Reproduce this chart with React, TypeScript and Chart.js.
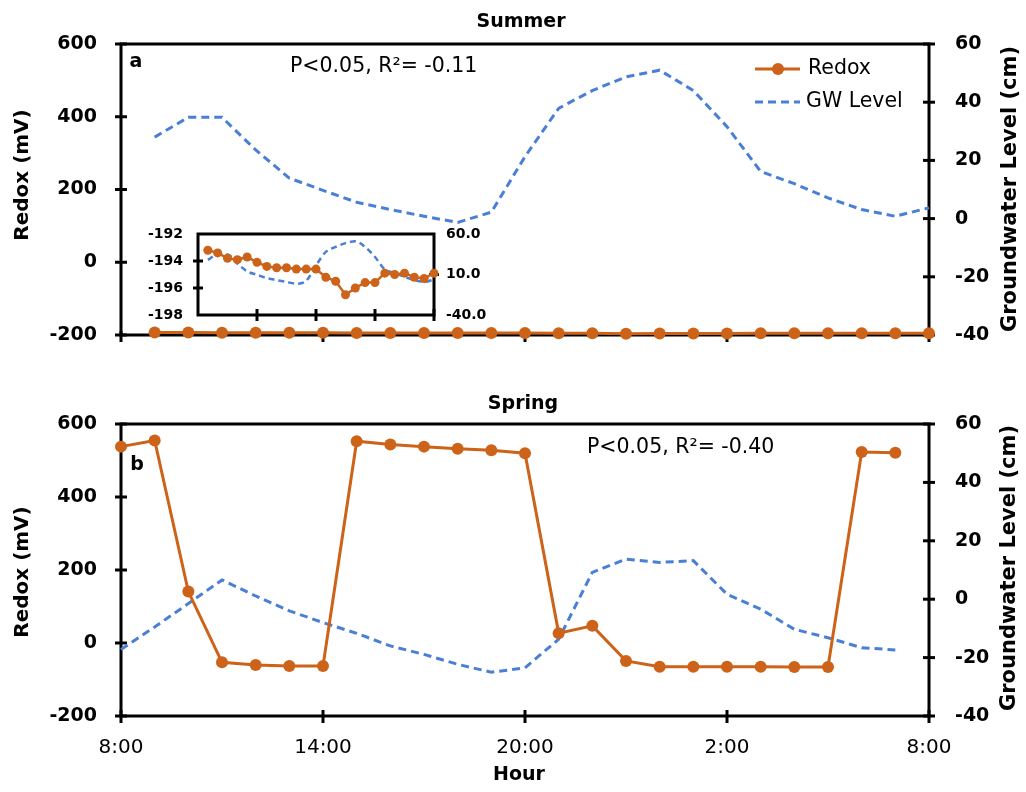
import React, { useEffect, useRef } from 'react';
import { Chart, registerables } from 'chart.js';

Chart.register(...registerables);

const FONT = '"DejaVu Sans", sans-serif';
const ORANGE = '#CC6319';
const BLUE = '#4A7FD6';

// ---- data ----
const xTickValues = [0, 6, 12, 18, 24];
const xTickLabels = ['8:00', '14:00', '20:00', '2:00', '8:00'];

const summerHours = [1, 2, 3, 4, 5, 6, 7, 8, 9, 10, 11, 12, 13, 14, 15, 16, 17, 18, 19, 20, 21, 22, 23, 24];
const summerRedox = [-193.2, -193.4, -193.8, -193.9, -193.7, -194.1, -194.4, -194.5, -194.5, -194.6, -194.6, -194.6,
  -195.2, -195.5, -196.5, -196.0, -195.6, -195.6, -194.9, -195.0, -194.9, -195.2, -195.3, -194.9];
const summerGW = [28, 34.8, 34.8, 23.6, 13.9, 9.7, 5.6, 3.1, 0.8, -1.3, 2.2, 21.3,
  37.9, 44, 48.7, 51, 44, 31.6, 16.2, 12, 7.1, 3.1, 0.8, 3.7];

const springHours = [0, 1, 2, 3, 4, 5, 6, 7, 8, 9, 10, 11, 12, 13, 14, 15, 16, 17, 18, 19, 20, 21, 22, 23];
const springRedox = [538, 555, 141, -53, -60, -63, -63, 553, 544, 538, 532, 528,
  520, 27, 47, -49, -65, -65, -65, -65, -66, -66, 523, 521];
const springGW = [-17.2, -9.5, -1.5, 6.6, 1.1, -4, -8, -11.7, -16, -18.9, -22.3, -25,
  -23.5, -13.7, 9.2, 13.7, 12.6, 13.2, 1.7, -3.4, -10.3, -13.2, -16.6, -17.4];

const redoxTicks = [-200, 0, 200, 400, 600];
const gwTicks = [-40, -20, 0, 20, 40, 60];
const insetRedoxTicks = [-198, -196, -194, -192];
const insetGWTicks = [-40, 10, 60];

type TextItem = { text: string; x: number; y: number; font: string; align?: CanvasTextAlign; rotate?: number };

function pts(xs: number[], ys: number[]) {
  return xs.map((x, i) => ({ x, y: ys[i] }));
}

function decor(id: string, cfg: {
  lw: number;
  yTicks: { axis: string; values: number[] }[];
  xTicks: number[];
  tickIn: number;
  tickOut: number;
  texts: TextItem[];
  legend?: boolean;
}) {
  return {
    id,
    beforeDatasetsDraw(chart: any) {
      const { ctx, chartArea: a } = chart;
      ctx.save();
      ctx.strokeStyle = '#000';
      ctx.lineWidth = cfg.lw;
      ctx.lineCap = 'square';
      ctx.strokeRect(a.left, a.top, a.right - a.left, a.bottom - a.top);
      ctx.lineCap = 'butt';
      cfg.yTicks.forEach((t) => {
        const s = chart.scales[t.axis];
        const x = s.position === 'left' ? a.left : a.right;
        t.values.forEach((v) => {
          const y = s.getPixelForValue(v);
          ctx.beginPath();
          ctx.moveTo(x - cfg.tickOut, y);
          ctx.lineTo(x + cfg.tickOut, y);
          ctx.stroke();
        });
      });
      const xs = chart.scales.x;
      cfg.xTicks.forEach((v) => {
        const x = xs.getPixelForValue(v);
        ctx.beginPath();
        ctx.moveTo(x, a.bottom - cfg.tickIn);
        ctx.lineTo(x, a.bottom + cfg.tickOut + 1);
        ctx.stroke();
      });
      ctx.restore();
    },
    afterDraw(chart: any) {
      const { ctx } = chart;
      ctx.save();
      ctx.fillStyle = '#000';
      ctx.textBaseline = 'middle';
      cfg.texts.forEach((t) => {
        ctx.save();
        ctx.font = t.font;
        ctx.textAlign = t.align || 'center';
        ctx.translate(t.x, t.y);
        if (t.rotate) ctx.rotate(t.rotate);
        ctx.fillText(t.text, 0, 0);
        ctx.restore();
      });
      if (cfg.legend) {
        ctx.lineWidth = 3;
        ctx.strokeStyle = ORANGE;
        ctx.beginPath();
        ctx.moveTo(755, 69);
        ctx.lineTo(800, 69);
        ctx.stroke();
        ctx.fillStyle = ORANGE;
        ctx.beginPath();
        ctx.arc(778, 69, 6, 0, Math.PI * 2);
        ctx.fill();
        ctx.strokeStyle = BLUE;
        ctx.setLineDash([8, 5]);
        ctx.beginPath();
        ctx.moveTo(755, 102);
        ctx.lineTo(800, 102);
        ctx.stroke();
        ctx.setLineDash([]);
        ctx.fillStyle = '#000';
        ctx.font = `20.5px ${FONT}`;
        ctx.textAlign = 'left';
        ctx.fillText('Redox', 808, 69);
        ctx.fillText('GW Level', 806, 102);
      }
      ctx.restore();
    },
  };
}

const noGrid = { display: false, drawTicks: false };
const noBorder = { display: false };

function mainConfig(opts: {
  redoxX: number[]; redox: number[]; gwX: number[]; gw: number[];
  padTop: number; xHeight: number; showX: boolean; plugin: any;
}) {
  return {
    type: 'line' as const,
    data: {
      datasets: [
        {
          label: 'Redox',
          data: pts(opts.redoxX, opts.redox),
          borderColor: ORANGE,
          backgroundColor: ORANGE,
          borderWidth: 3,
          pointRadius: 6,
          pointBorderWidth: 0,
          pointBackgroundColor: ORANGE,
          yAxisID: 'y',
          clip: false,
        },
        {
          label: 'GW Level',
          data: pts(opts.gwX, opts.gw),
          borderColor: BLUE,
          borderWidth: 3,
          borderDash: [8, 5],
          pointRadius: 0,
          yAxisID: 'y2',
          clip: false,
        },
      ],
    },
    options: {
      responsive: false,
      animation: false,
      devicePixelRatio: 1,
      layout: { autoPadding: false, padding: { top: opts.padTop, left: 0, right: 0, bottom: 0 } },
      plugins: { legend: { display: false }, tooltip: { enabled: false }, title: { display: false } },
      scales: {
        x: {
          type: 'linear',
          min: 0,
          max: 24,
          grid: noGrid,
          border: noBorder,
          afterBuildTicks: (s: any) => { s.ticks = xTickValues.map((v) => ({ value: v })); },
          ticks: {
            display: opts.showX,
            padding: 20,
            color: '#000',
            font: { family: FONT, size: 20 },
            maxRotation: 0,
            callback: (v: number) => xTickLabels[xTickValues.indexOf(v)] ?? '',
          },
          afterFit: (s: any) => { s.height = opts.xHeight; },
        },
        y: {
          position: 'left',
          min: -200,
          max: 600,
          grid: noGrid,
          border: noBorder,
          afterBuildTicks: (s: any) => { s.ticks = redoxTicks.map((v) => ({ value: v })); },
          ticks: { padding: 24, color: '#000', font: { family: FONT, size: 19, weight: 'bold' } },
          afterFit: (s: any) => { s.width = 121; },
        },
        y2: {
          position: 'right',
          min: -40,
          max: 60,
          grid: noGrid,
          border: noBorder,
          afterBuildTicks: (s: any) => { s.ticks = gwTicks.map((v) => ({ value: v })); },
          ticks: { padding: 26, color: '#000', font: { family: FONT, size: 19, weight: 'bold' } },
          afterFit: (s: any) => { s.width = 97; },
        },
      },
    },
    plugins: [opts.plugin],
  };
}

function insetConfig() {
  return {
    type: 'line' as const,
    data: {
      datasets: [
        {
          label: 'Redox',
          data: pts(summerHours, summerRedox),
          borderColor: ORANGE,
          backgroundColor: ORANGE,
          borderWidth: 2.5,
          pointRadius: 4.5,
          pointBorderWidth: 0,
          pointBackgroundColor: ORANGE,
          yAxisID: 'y',
          clip: false,
        },
        {
          label: 'GW Level',
          data: pts(summerHours, summerGW),
          borderColor: BLUE,
          borderWidth: 2.5,
          borderDash: [6, 4],
          pointRadius: 0,
          cubicInterpolationMode: 'monotone',
          yAxisID: 'y2',
          clip: false,
        },
      ],
    },
    options: {
      responsive: false,
      animation: false,
      devicePixelRatio: 1,
      layout: { autoPadding: false, padding: { top: 24, left: 0, right: 0, bottom: 0 } },
      plugins: { legend: { display: false }, tooltip: { enabled: false }, title: { display: false } },
      scales: {
        x: {
          type: 'linear', min: 0, max: 24, grid: noGrid, border: noBorder,
          ticks: { display: false },
          afterFit: (s: any) => { s.height = 24; },
        },
        y: {
          position: 'left', min: -198, max: -192, grid: noGrid, border: noBorder,
          afterBuildTicks: (s: any) => { s.ticks = insetRedoxTicks.map((v) => ({ value: v })); },
          ticks: { padding: 15, color: '#000', font: { family: FONT, size: 14, weight: 'bold' } },
          afterFit: (s: any) => { s.width = 68; },
        },
        y2: {
          position: 'right', min: -40, max: 60, grid: noGrid, border: noBorder,
          afterBuildTicks: (s: any) => { s.ticks = insetGWTicks.map((v) => ({ value: v })); },
          ticks: {
            padding: 12, color: '#000', font: { family: FONT, size: 14, weight: 'bold' },
            callback: (v: number) => v.toFixed(1),
          },
          afterFit: (s: any) => { s.width = 66; },
        },
      },
    },
    plugins: [decor('insetDecor', {
      lw: 3,
      yTicks: [{ axis: 'y', values: [-196, -194] }, { axis: 'y2', values: [10] }],
      xTicks: [6, 12, 18, 24],
      tickIn: 6,
      tickOut: 5,
      texts: [],
    })],
  };
}

const ROT = -Math.PI / 2;

export default function App() {
  const topRef = useRef<HTMLCanvasElement>(null);
  const botRef = useRef<HTMLCanvasElement>(null);
  const insetRef = useRef<HTMLCanvasElement>(null);

  useEffect(() => {
    const topPlugin = decor('topDecor', {
      lw: 3,
      yTicks: [{ axis: 'y', values: redoxTicks }, { axis: 'y2', values: gwTicks }],
      xTicks: xTickValues,
      tickIn: 4,
      tickOut: 6,
      legend: true,
      texts: [
        { text: 'Summer', x: 521, y: 22, font: `bold 19px ${FONT}` },
        { text: 'a', x: 136, y: 62, font: `bold 19px ${FONT}` },
        { text: 'P<0.05, R²= -0.11', x: 290, y: 67, font: `20.5px ${FONT}`, align: 'left' },
        { text: 'Redox (mV)', x: 23, y: 175, font: `bold 20px ${FONT}`, rotate: ROT },
        { text: 'Groundwater Level (cm)', x: 1011, y: 189, font: `bold 21px ${FONT}`, rotate: ROT },
      ],
    });
    const botPlugin = decor('botDecor', {
      lw: 3,
      yTicks: [{ axis: 'y', values: redoxTicks }, { axis: 'y2', values: gwTicks }],
      xTicks: xTickValues,
      tickIn: 6,
      tickOut: 6,
      texts: [
        { text: 'Spring', x: 523, y: 404 - 380, font: `bold 19px ${FONT}` },
        { text: 'b', x: 137, y: 465 - 380, font: `bold 19px ${FONT}` },
        { text: 'P<0.05, R²= -0.40', x: 587, y: 448 - 380, font: `20.5px ${FONT}`, align: 'left' },
        { text: 'Redox (mV)', x: 23, y: 572 - 380, font: `bold 20px ${FONT}`, rotate: ROT },
        { text: 'Groundwater Level (cm)', x: 1010, y: 568 - 380, font: `bold 21px ${FONT}`, rotate: ROT },
        { text: 'Hour', x: 519, y: 775 - 380, font: `bold 19px ${FONT}` },
      ],
    });
    const charts = [
      new Chart(topRef.current!, mainConfig({
        redoxX: summerHours, redox: summerRedox, gwX: summerHours, gw: summerGW,
        padTop: 44, xHeight: 45, showX: false, plugin: topPlugin,
      }) as any),
      new Chart(botRef.current!, mainConfig({
        redoxX: springHours, redox: springRedox, gwX: springHours, gw: springGW,
        padTop: 44, xHeight: 76, showX: true, plugin: botPlugin,
      }) as any),
      new Chart(insetRef.current!, insetConfig() as any),
    ];
    return () => charts.forEach((c) => c.destroy());
  }, []);

  return (
    <div style={{ position: 'absolute', left: 0, top: 0, width: 1026, height: 792, background: '#fff', overflow: 'hidden' }}>
      <canvas ref={topRef} width={1026} height={380} style={{ position: 'absolute', left: 0, top: 0, width: 1026, height: 380 }} />
      <canvas ref={botRef} width={1026} height={412} style={{ position: 'absolute', left: 0, top: 380, width: 1026, height: 412 }} />
      <canvas ref={insetRef} width={370} height={129} style={{ position: 'absolute', left: 130, top: 210, width: 370, height: 129 }} />
    </div>
  );
}
